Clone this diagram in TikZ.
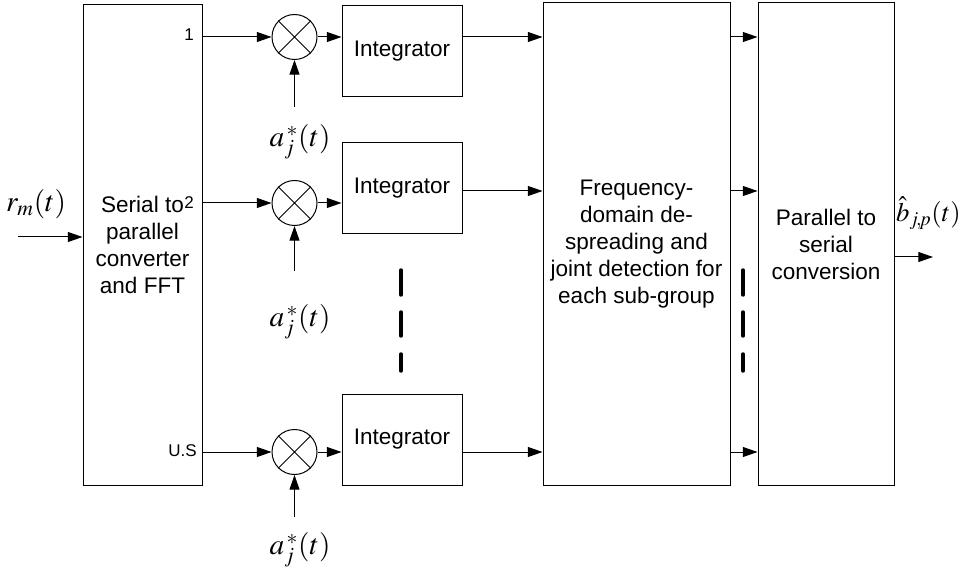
\documentclass[tikz,border=0pt]{standalone}
\usepackage{mathptmx}
\usepackage[no-math]{fontspec}
\setmainfont{Liberation Sans}
\usetikzlibrary{arrows.meta}
\begin{document}
\begin{tikzpicture}[x=0.75pt,y=-0.75pt,
  blk/.style={draw, line width=0.75pt, rectangle, inner sep=0pt, align=center,
    font=\fontsize{16.9}{20.25}\selectfont},
  intg/.style={blk, minimum width=90pt, minimum height=68.25pt},
  mult/.style={draw, circle, line width=0.75pt, minimum size=33.75pt, inner sep=0pt},
  arr/.style={line width=0.75pt, -{Triangle[length=11pt,width=7.5pt]}},
  port/.style={font=\fontsize{12.75}{15}\selectfont, anchor=east, inner sep=0pt},
  sig/.style={font=\fontsize{22}{26}\selectfont, inner sep=0pt},
  gapline/.style={line width=2.6pt, line cap=round}]
\useasboundingbox (0,0) rectangle (963,570);

% processing blocks
\node[blk, minimum width=89.25pt, minimum height=360pt] (ser) at (142.5,245)
  {Serial to\\parallel\\converter\\and FFT};
\node[intg] (int1) at (402,51) {Integrator};
\node[intg] (int2) at (402,188) {Integrator};
\node[intg] (int3) at (402,439.5) {Integrator};
\node[blk, minimum width=140.25pt, minimum height=361.5pt] (freq) at (636.5,244)
  {Frequency-\\domain de-\\spreading and\\joint detection for\\each sub-group};
\node[blk, minimum width=102pt, minimum height=361.5pt] (par) at (826,244)
  {Parallel to\\serial\\conversion};

% multipliers
\foreach \i/\y in {1/37,2/203,3/452} {
  \node[mult] (m\i) at (294.5,\y) {};
  \draw[line width=0.75pt] (m\i.north west) -- (m\i.south east)
                           (m\i.north east) -- (m\i.south west);
}

% output ports of the serial-to-parallel block
\node[port] (p1) at (194,35) {1};
\node[port] (p2) at (194,203) {2};
\node[port] (p3) at (197,451) {U.S};

% row levels after integration
\coordinate (o1) at (0,37);
\coordinate (o2) at (0,191);
\coordinate (o3) at (0,452);

\foreach \i in {1,2,3} {
  \draw[arr] (ser.east |- m\i) -- (m\i.west);
  \draw[arr] (m\i.east) -- (int\i.west |- m\i);
  \draw[arr] (int\i.east |- o\i) -- (freq.west |- o\i);
  \draw[arr] (freq.east |- o\i) -- (par.west |- o\i);
}

% spreading code inputs
\coordinate (c1) at (294.5,107);
\coordinate (c2) at (294.5,271);
\coordinate (c3) at (294.5,517);
\foreach \i in {1,2,3} \draw[arr] (c\i) -- (m\i.south);
\node[sig] (a1) at (300,142) {$a_j^{\,*}(t)$};
\node[sig] (a2) at (300,322) {$a_j^{\,*}(t)$};
\node[sig] (a3) at (300,550) {$a_j^{\,*}(t)$};

% received signal and output
\coordinate (rin) at (18,237);
\draw[arr] (rin) -- (rin -| ser.west);
\node[sig] (rm) at (36,204) {$r_m(t)$};
\coordinate (bout) at (933,257);
\draw[arr] (par.east |- bout) -- (bout);
\node[sig, font=\fontsize{20}{24}\selectfont, anchor=east] (bh) at (961,213)
  {$\hat{b}_{j\!,\!p}(t)$};

% omitted branches
\foreach \x in {401,743} {
  \draw[gapline] (\x,270) -- (\x,295);
  \draw[gapline] (\x,312) -- (\x,336);
  \draw[gapline] (\x,354) -- (\x,371);
}
\end{tikzpicture}
\end{document}
